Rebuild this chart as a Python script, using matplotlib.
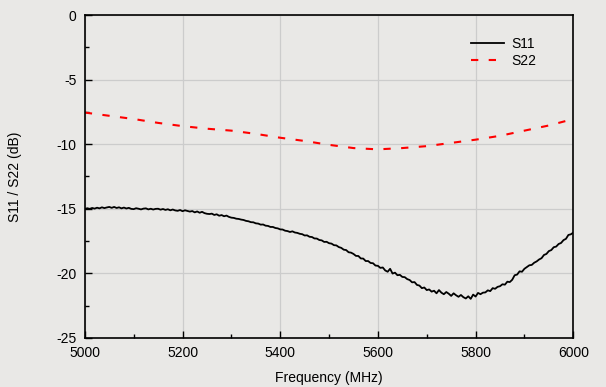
import matplotlib
matplotlib.use('Agg')
import matplotlib.pyplot as plt
from matplotlib.ticker import MultipleLocator
import numpy as np

BG = '#e9e8e6'

# S11 sampled every 5 MHz
freq_s11 = np.arange(5000, 6001, 5)
s11 = [
    -15.02, -14.96, -15.01, -14.94, -14.99, -14.92, -14.97, -14.89, -14.95, -14.90,
    -14.86, -14.93, -14.86, -14.94, -14.89, -14.97, -14.91, -14.98, -14.93, -15.01,
    -15.03, -14.96, -15.00, -15.05, -14.99, -14.97, -15.05, -15.00, -15.06, -15.01,
    -15.00, -15.07, -15.02, -15.09, -15.04, -15.12, -15.06, -15.13, -15.16, -15.10,
    -15.19, -15.12, -15.17, -15.22, -15.18, -15.28, -15.21, -15.31, -15.24, -15.34,
    -15.39, -15.41, -15.38, -15.48, -15.43, -15.54, -15.49, -15.58, -15.53, -15.63,
    -15.69, -15.71, -15.77, -15.79, -15.84, -15.87, -15.94, -15.97, -16.04, -16.05,
    -16.13, -16.15, -16.23, -16.22, -16.31, -16.33, -16.41, -16.41, -16.49, -16.52,
    -16.60, -16.61, -16.70, -16.73, -16.80, -16.75, -16.84, -16.87, -16.94, -16.97,
    -17.07, -17.06, -17.17, -17.19, -17.30, -17.31, -17.42, -17.45, -17.57, -17.56,
    -17.67, -17.70, -17.82, -17.84, -17.97, -18.03, -18.17, -18.20, -18.37, -18.40,
    -18.50, -18.65, -18.66, -18.85, -18.86, -19.05, -19.05, -19.20, -19.22, -19.40,
    -19.42, -19.58, -19.55, -19.78, -19.88, -19.65, -20.02, -19.95, -20.15, -20.12,
    -20.28, -20.30, -20.45, -20.52, -20.70, -20.68, -20.90, -20.95, -21.15, -21.10,
    -21.30, -21.25, -21.42, -21.35, -21.55, -21.30, -21.50, -21.62, -21.45, -21.58,
    -21.75, -21.55, -21.70, -21.82, -21.68, -21.85, -21.95, -21.78, -21.98, -21.65,
    -21.80, -21.52, -21.62, -21.50, -21.48, -21.32, -21.38, -21.15, -21.20, -21.05,
    -21.00, -20.85, -20.88, -20.65, -20.68, -20.50, -20.15, -20.10, -19.85, -19.88,
    -19.65, -19.52, -19.38, -19.35, -19.18, -19.08, -18.93, -18.83, -18.58, -18.50,
    -18.28, -18.20, -17.98, -17.93, -17.73, -17.65, -17.43, -17.33, -17.03, -16.98,
    -16.85,
]

# S22 sampled every 50 MHz
freq_s22 = np.arange(5000, 6001, 50)
s22 = [-7.55, -7.80, -8.05, -8.35, -8.60, -8.80, -8.95, -9.20, -9.50, -9.75,
       -10.05, -10.30, -10.40, -10.30, -10.15, -9.90, -9.65, -9.35, -8.95, -8.55,
       -8.05]

plt.rcParams['font.family'] = ['Liberation Sans', 'DejaVu Sans']
plt.rcParams['axes.unicode_minus'] = False

fig = plt.figure(figsize=(6.06, 3.87), dpi=100, facecolor=BG)
ax = fig.add_axes([0.140, 0.127, 0.806, 0.834], facecolor=BG)

ax.plot(freq_s11, s11, color='black', lw=1.3, label='S11')
ax.plot(freq_s22, s22, color='red', lw=1.5, dashes=(3.5, 5), label='S22')

ax.set_xlim(5000, 6000)
ax.set_ylim(-25, 0)
ax.xaxis.set_major_locator(MultipleLocator(200))
ax.xaxis.set_minor_locator(MultipleLocator(100))
ax.yaxis.set_major_locator(MultipleLocator(5))
ax.yaxis.set_minor_locator(MultipleLocator(2.5))
ax.grid(True, which='major', color='#cccccc', lw=0.9)
ax.set_axisbelow(True)

ax.tick_params(which='both', direction='in', top=False, right=False,
               labelsize=10, colors='black')
ax.tick_params(which='major', length=5, width=1)
ax.tick_params(which='minor', length=3, width=1)
ax.tick_params(axis='y', pad=6)
ax.tick_params(axis='x', pad=6)
for s in ax.spines.values():
    s.set_linewidth(1.2)

ax.set_xlabel('Frequency (MHz)', fontsize=10, labelpad=7.5)
ax.set_ylabel('S11 / S22 (dB)', fontsize=10, labelpad=25)

ax.legend(loc='upper right', bbox_to_anchor=(0.95, 0.97), frameon=False,
          fontsize=10, handlelength=2.4, handletextpad=0.5, labelspacing=0.2)

fig.savefig('out.png', dpi=100, facecolor=BG)
